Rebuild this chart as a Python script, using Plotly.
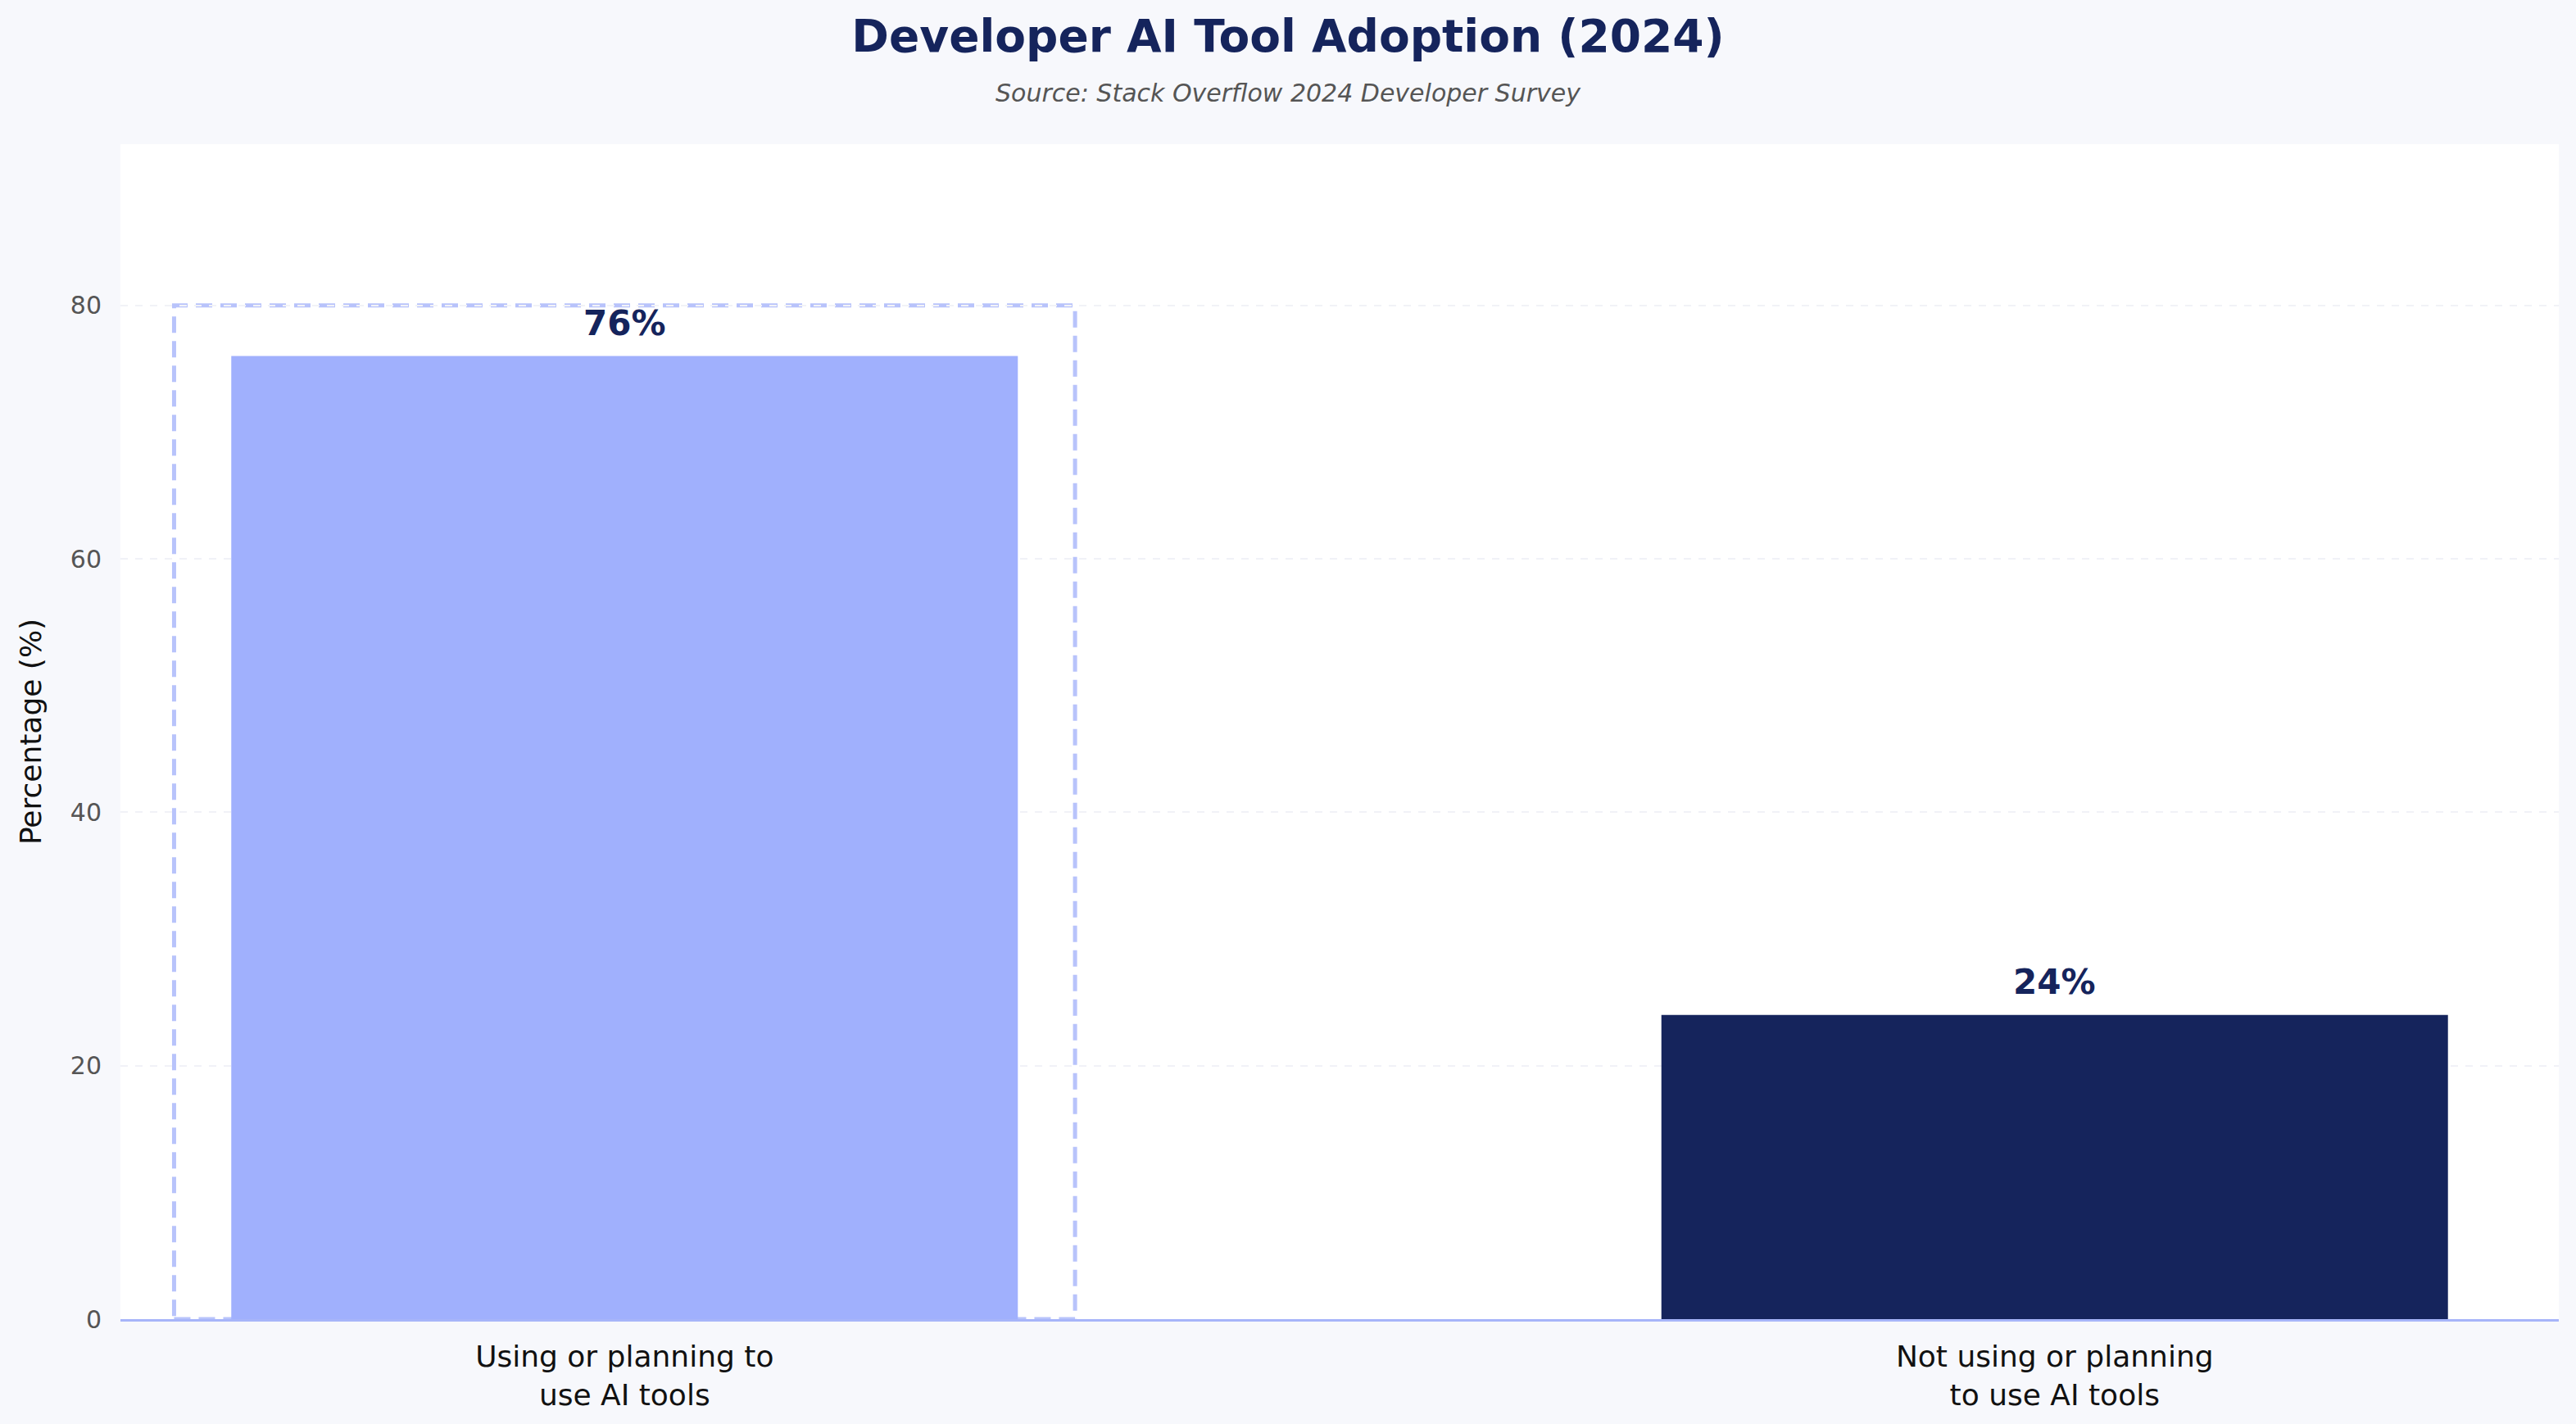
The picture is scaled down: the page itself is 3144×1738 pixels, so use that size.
import plotly.graph_objects as go

categories = ["Using or planning to<br>use AI tools", "Not using or planning<br>to use AI tools"]
values = [76, 24]
bar_colors = ["#a0b0fd", "#15245c"]
value_labels = ["76%", "24%"]
y_ticks = [0, 20, 40, 60, 80]
highlight_box = {"x0": -0.315, "x1": 0.315, "y0": 0, "y1": 80}

FONT = "DejaVu Sans"
NAVY = "#15245c"
PLOT_W = 3144 - 147 - 21
PLOT_H = 1738 - 176 - 128

fig = go.Figure()
fig.add_trace(go.Bar(
    x=[0, 1], y=values, width=0.55,
    marker=dict(color=bar_colors, line=dict(width=0)),
    hoverinfo="skip",
))

fig.add_shape(type="rect", xref="x", yref="y",
              x0=highlight_box["x0"], x1=highlight_box["x1"],
              y0=highlight_box["y0"], y1=highlight_box["y1"],
              line=dict(color="#b8c3fb", width=5, dash="20px,10px"),
              fillcolor="rgba(0,0,0,0)", layer="below")

for i, (v, lab) in enumerate(zip(values, value_labels)):
    fig.add_annotation(x=i, y=v, text=f"<b>{lab}</b>", showarrow=False,
                       yanchor="bottom", yshift=14,
                       font=dict(family=FONT, size=42, color=NAVY))

fig.add_annotation(xref="paper", yref="paper", x=(1572 - 147) / PLOT_W,
                   y=1 + (176 - 113) / PLOT_H,
                   xanchor="center", yanchor="middle", showarrow=False,
                   text="<i>Source: Stack Overflow 2024 Developer Survey</i>",
                   font=dict(family=FONT, size=30, color="#555555"))

fig.update_layout(
    width=3144, height=1738,
    paper_bgcolor="#f7f8fc", plot_bgcolor="#ffffff",
    margin=dict(l=147, r=21, t=176, b=128),
    showlegend=False,
    title=dict(text="<b>Developer AI Tool Adoption (2024)</b>",
               x=1572 / 3144, xanchor="center", xref="container",
               y=1 - 44 / 1738, yanchor="middle", yref="container",
               font=dict(family=FONT, size=55, color=NAVY)),
    xaxis=dict(
        range=[-0.3525, 1.3525], tickvals=[0, 1], ticktext=categories,
        showgrid=False, zeroline=False, showline=True, linecolor="#a7b5f9", linewidth=3,
        ticks="", ticklabelstandoff=12,
        tickfont=dict(family=FONT, size=36, color="#111111"),
        fixedrange=True,
    ),
    yaxis=dict(
        range=[0, 92.72], tickvals=y_ticks, showline=False, zeroline=False,
        showgrid=True, gridcolor="#f1f2f7", gridwidth=2, griddash="dash",
        ticks="", ticklabelstandoff=22,
        tickfont=dict(family=FONT, size=30, color="#555555"),
        title=dict(text="Percentage (%)", standoff=24,
                   font=dict(family=FONT, size=36, color="#111111")),
    ),
)

fig.write_html("out.html")
